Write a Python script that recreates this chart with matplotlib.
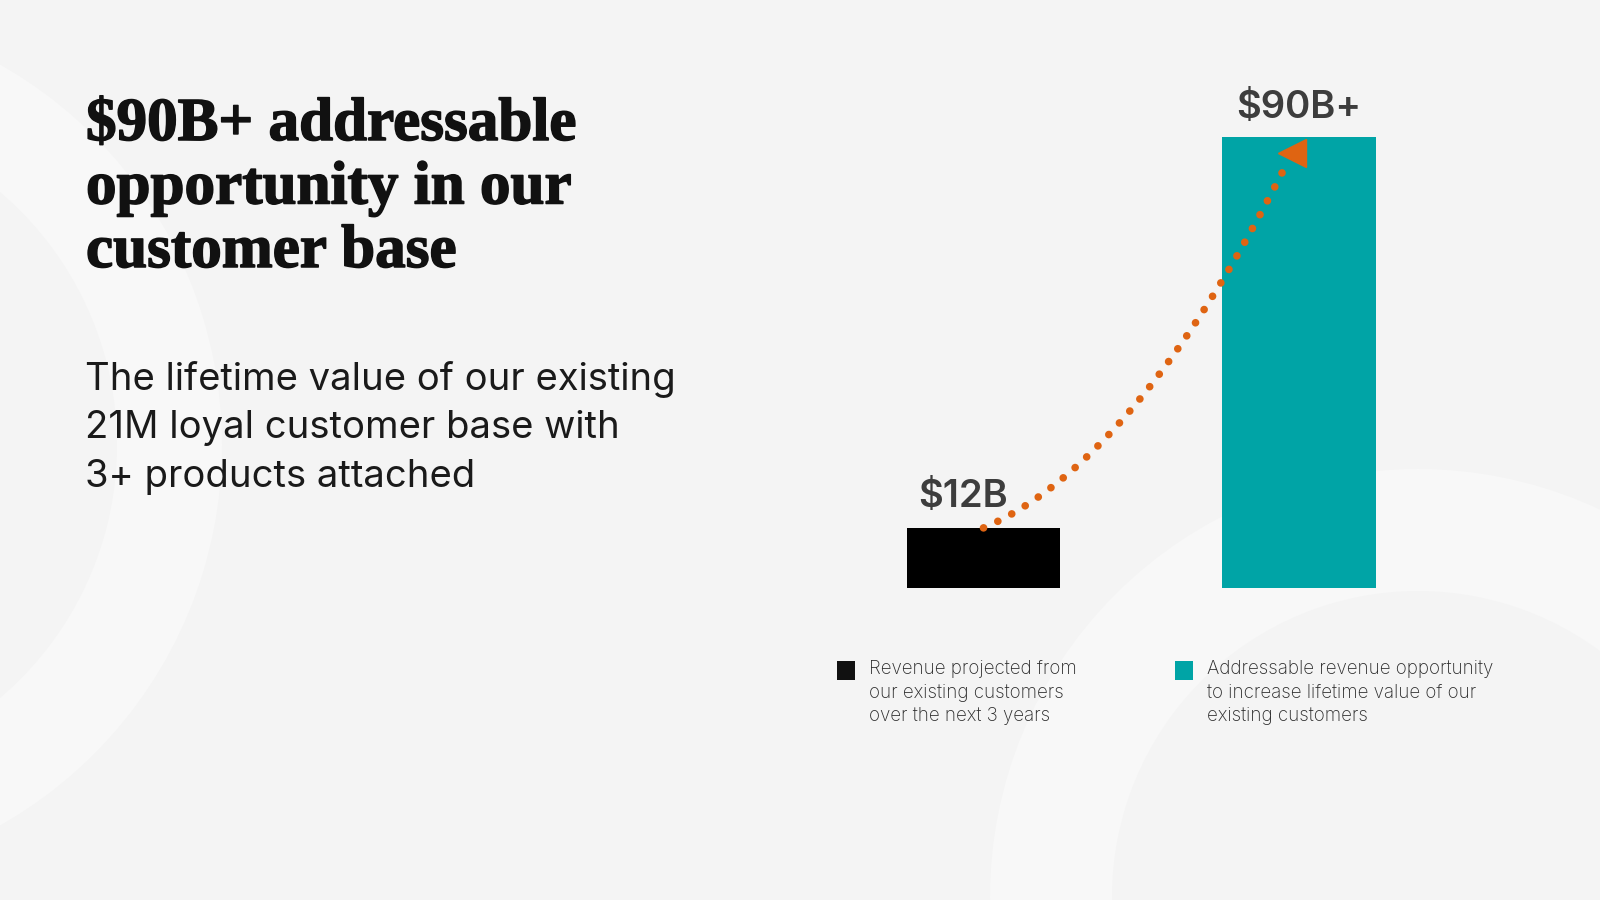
import numpy as np
import matplotlib.pyplot as plt
import matplotlib.patheffects as pe
from matplotlib.patches import Circle, Rectangle

# data
categories = ['Revenue projected from\nour existing customers\nover the next 3 years',
              'Addressable revenue opportunity\nto increase lifetime value of our\nexisting customers']
values = [12, 90]
value_labels = ['$12B', '$90B+']
bar_colors = ['#000000', '#00a4a6']

title_lines = ['$90B+ addressable', 'opportunity in our', 'customer base']
sub_lines = ['The lifetime value of our existing', '21M loyal customer base with',
             '3+ products attached']

BG = '#f4f4f4'
RING = '#f8f8f8'
ORANGE = '#df6412'

fig = plt.figure(figsize=(16, 9), dpi=100)
fig.patch.set_facecolor(BG)

# background layer in pixel coords
bg = fig.add_axes([0, 0, 1, 1], zorder=0)
bg.set_xlim(0, 1600)
bg.set_ylim(900, 0)
bg.axis('off')
for cx, cy, r_out, r_in in [(-215, 445, 437, 332), (1418, 897, 428, 306)]:
    bg.add_patch(Circle((cx, cy), r_out, color=RING, lw=0))
    bg.add_patch(Circle((cx, cy), r_in, color=BG, lw=0))

# title
for i, line in enumerate(title_lines):
    bg.text(86, 140 + i * 63.5, line, family='Liberation Serif', weight='bold',
            fontsize=44, color='#111111', va='baseline', ha='left',
            path_effects=[pe.withStroke(linewidth=1.1, foreground='#111111')])

# subtitle
for i, line in enumerate(sub_lines):
    bg.text(85, 390 + i * 48.5, line, family='Inter', fontsize=27.5,
            color='#1a1a1a', va='baseline', ha='left')

# bar chart
ax = fig.add_axes([825.75 / 1600, 312 / 900, 631 / 1600, 501 / 900], zorder=1)
ax.set_facecolor('none')
x = np.arange(len(values))
ax.bar(x, values, width=0.485, color=bar_colors, zorder=2)
ax.set_xlim(-0.5, 1.5)
ax.set_ylim(0, 100)
ax.axis('off')

offsets = [(-14.4, 15), (0, 13.5)]
for xi, v, lab, off in zip(x, values, value_labels, offsets):
    ax.annotate(lab, xy=(xi, v), xytext=off, textcoords='offset points',
                ha='center', va='baseline', family='Inter', weight='semibold',
                fontsize=27.5, color='#3d3d3d')

# dotted curved arrow from the small bar up to the big one
p0 = np.array([x[0], values[0]])
p1 = np.array([x[0] + 0.474, values[0] + 12.6])
p2 = np.array([x[1] - 0.051, values[1] - 6.8])
t = np.linspace(0, 1, 300)[:, None]
curve = (1 - t) ** 2 * p0 + 2 * (1 - t) * t * p1 + t ** 2 * p2
ax.plot(curve[:, 0], curve[:, 1], color=ORANGE, lw=5.5, linestyle=(0, (0.01, 2.05)),
        dash_capstyle='round', zorder=3)
ax.plot([x[1] - 0.022], [values[1] - 3.2], marker='<', markersize=20,
        color=ORANGE, zorder=3)

# legend
leg_x = [837, 1175]
for lx, col, text in zip(leg_x, bar_colors, categories):
    bg.add_patch(Rectangle((lx, 661), 18, 19, color=col if col != '#000000' else '#111111', lw=0))
    for j, line in enumerate(text.split('\n')):
        bg.text(lx + 32, 674 + j * 23.5, line, family='Inter', weight='light',
                fontsize=13.5, color='#2b2b2b', va='baseline', ha='left')

fig.savefig('out.png', dpi=100, facecolor=BG)
